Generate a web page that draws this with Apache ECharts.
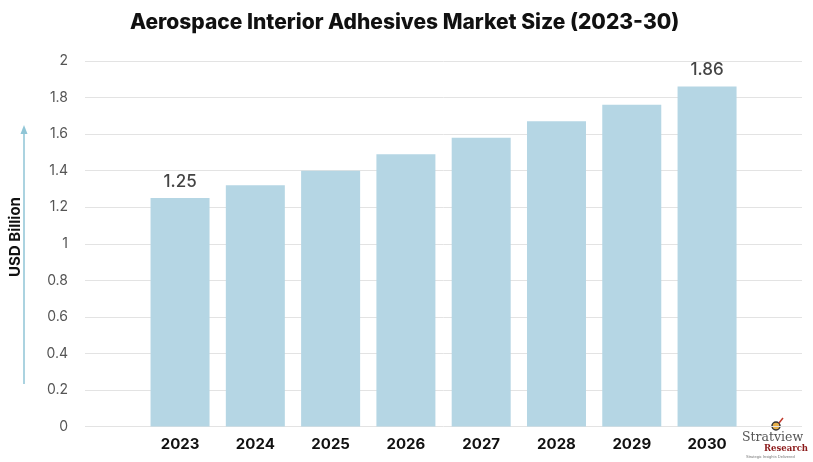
<!DOCTYPE html>
<html>
<head>
<meta charset="utf-8">
<script src="https://cdn.jsdelivr.net/npm/echarts@6/dist/echarts.min.js"></script>
<style>html,body{margin:0;padding:0;background:#fff}#c{width:813px;height:462px}</style>
</head>
<body>
<div id="c"></div>
<script>
const years = ['2023','2024','2025','2026','2027','2028','2029','2030'];
const marketSize = [1.25, 1.32, 1.40, 1.49, 1.58, 1.67, 1.76, 1.86];
const labelledYears = ['2023','2030'];
const yMin = 0, yMax = 2, yStep = 0.2;

const chart = echarts.init(document.getElementById('c'), null, {renderer:'canvas'});
const FONT = 'Inter, "Open Sans", sans-serif';
chart.setOption({
  animation:false,
  backgroundColor:'#ffffff',
  title:{text:'Aerospace Interior Adhesives Market Size (2023-30)', left:125, top:7,
    textStyle:{fontFamily:FONT, fontSize:21, fontWeight:800, color:'#111'}},
  grid:[
    {left:85, right:11, top:61, bottom:35.5},
    {left:142.4, right:68.3, top:61, bottom:35.5}
  ],
  xAxis:[
    {gridIndex:0, type:'value', show:false, min:0, max:1},
    {gridIndex:1, type:'category', data:years,
      axisLine:{show:false}, axisTick:{show:false},
      axisLabel:{margin:10, fontFamily:FONT, fontSize:15, fontWeight:'bold', color:'#111'}}
  ],
  yAxis:[
    {gridIndex:0, type:'value', min:yMin, max:yMax, interval:yStep,
      axisLine:{show:false}, axisTick:{show:false},
      axisLabel:{margin:17, fontFamily:FONT, fontSize:14, color:'#555',
        formatter:v=>String(Math.round(v*10)/10)},
      splitLine:{lineStyle:{color:'#e3e3e3', width:1}}},
    {gridIndex:1, type:'value', min:yMin, max:yMax, interval:yStep, show:false, splitLine:{show:false}}
  ],
  series:[{
    type:'bar', xAxisIndex:1, yAxisIndex:1, barWidth:59,
    itemStyle:{color:'#b5d6e4'},
    data:marketSize.map((v,i)=>({value:v, label:{show:labelledYears.includes(years[i])}})),
    label:{position:'top', distance:8, fontFamily:FONT, fontSize:17, fontWeight:500, color:'#444',
      formatter:p=>p.value.toFixed(2)}
  }],
  graphic:[
    {type:'text', x:15, y:237, rotation:Math.PI/2, style:{text:'USD Billion', font:'bold 15px '+FONT, fill:'#111', align:'center', verticalAlign:'middle'}},
    {type:'line', shape:{x1:24, y1:384, x2:24, y2:132}, style:{stroke:'#8fc5d6', lineWidth:1.5}},
    {type:'polygon', shape:{points:[[24,125],[20.5,134],[27.5,134]]}, style:{fill:'#8fc5d6'}},
    {type:'text', x:742, y:431, style:{text:'Stratview', font:'12.5px "DejaVu Serif", serif', fill:'#555'}},
    {type:'circle', shape:{cx:776, cy:426, r:4}, style:{fill:'#e8b04a', stroke:'#333', lineWidth:1.5}},
    {type:'line', shape:{x1:779, y1:423, x2:783, y2:418}, style:{stroke:'#c0392b', lineWidth:1.5}},
    {type:'text', x:764, y:444, style:{text:'Research', font:'bold 8.5px "DejaVu Serif", serif', fill:'#8b1a1a'}},
    {type:'text', x:746, y:455, style:{text:'Strategic Insights Delivered', font:'4px sans-serif', fill:'#777'}}
  ]
});
</script>
</body>
</html>
